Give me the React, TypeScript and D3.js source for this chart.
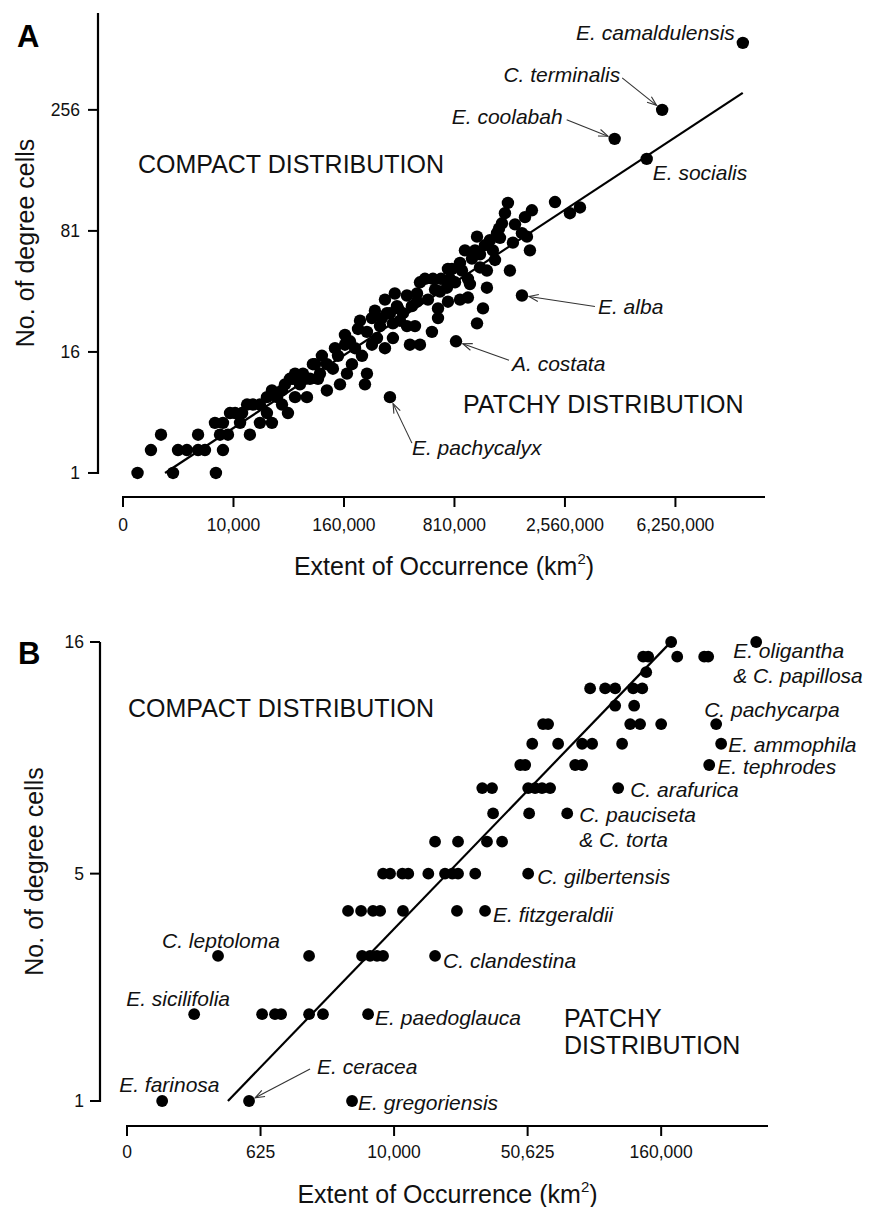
import React from 'react';
import * as d3 from 'd3';

const FONT = '"Liberation Sans", Arial, Helvetica, sans-serif';

type Pt = [number, number]; // [extent of occurrence km², number of degree cells]

// ---------- Panel A ----------
const ticksXA = [0, 10000, 160000, 810000, 2560000, 6250000];
const ticksYA = [1, 16, 81, 256];

const speciesA: Pt[] = [
  [3, 1], [420, 1], [5000, 1],
  [41, 2], [615, 2], [1120, 2], [2130, 2], [3030, 2], [6700, 2],
  [140, 3], [2130, 3], [5940, 3], [8150, 3], [17400, 3],
  [4800, 4], [6700, 4], [23600, 4], [33000, 4], [12600, 4],
  [8800, 5], [10600, 5], [13500, 5], [49700, 5], [28800, 5],
  [15900, 6], [19100, 6], [23600, 6], [42900, 6],
  [28800, 7], [37800, 7], [76800, 7], [58800, 7],
  [33000, 8], [116000, 8], [42900, 8],
  [46200, 9], [65800, 9], [230000, 9], [148800, 9],
  [56000, 10], [52100, 10], [97000, 10], [73600, 10], [82000, 10],
  [70400, 11], [168800, 11], [237700, 11], [101000, 11], [58800, 11],
  [130300, 12],
  [87300, 13], [91200, 13], [116000, 13], [184300, 13],
  [143400, 15], [218900, 15], [105000, 15],
  [162900, 18], [178000, 19], [194500, 17], [257700, 18], [316000, 17], [135500, 17],
  [162900, 21], [211700, 26], [270200, 30], [316000, 35], [366200, 38],
  [257700, 27], [301800, 27], [237700, 22], [279300, 20], [356200, 20], [204700, 23], [292700, 24],
  [340700, 29], [378200, 32], [412300, 29], [356200, 25], [436200, 24], [454800, 18], [487900, 24],
  [522000, 18], [611200, 22],
  [395000, 26], [467600, 32], [580300, 35], [677500, 39], [522000, 44], [636000, 40],
  [436200, 37], [501400, 38], [501400, 34], [557900, 46], [619100, 46], [686100, 46], [660700, 31],
  [660700, 27], [739100, 41], [748200, 52],
  [383800, 31], [325700, 29],
  [815400, 44], [886000, 51], [865400, 56], [917600, 65], [865400, 35],
  [785500, 52], [766600, 46], [950000, 46], [972200, 43], [950000, 36], [748200, 34],
  [1030000, 65], [995000, 59], [1090000, 53], [1177000, 51], [1177000, 41], [1127000, 31], [1054000, 25],
  [1090000, 62], [1152000, 69],
  [1054000, 76], [1216000, 73], [1355000, 75], [1551000, 71], [1700000, 79], [1787000, 76], [1256000, 65],
  [1285000, 58], [1504000, 51], [1840000, 65], [1313000, 79], [1341000, 83], [1585000, 87],
  [1384000, 88], [1428000, 98], [1473000, 109], [1752000, 94], [1876000, 101],
  [2337000, 110], [2677000, 98], [2926000, 104],
];

interface Named { name: string; extent: number; cells: number }

const namedA: Named[] = [
  { name: 'E. camaldulensis', extent: 9905000, cells: 430 },
  { name: 'C. terminalis', extent: 5671000, cells: 256 },
  { name: 'E. coolabah', extent: 3921000, cells: 200 },
  { name: 'E. socialis', extent: 5048000, cells: 167 },
  { name: 'E. alba', extent: 1700000, cells: 37 },
  { name: 'A. costata', extent: 825200, cells: 19 },
  { name: 'E. pachycalyx', extent: 340700, cells: 7 },
];

const fitA: Pt[] = [[210, 1], [9900000, 294]];

// ---------- Panel B ----------
const ticksXB = [0, 625, 10000, 50625, 160000];
const ticksYB = [1, 5, 16];

const speciesB: Pt[] = [
  [655, 2], [943, 2], [1108, 2], [2160, 2], [2900, 2],
  [2160, 3], [6000, 3], [6860, 3], [7680, 3], [8450, 3],
  [4690, 4], [5900, 4], [7200, 4], [8070, 4], [11400, 4], [23300, 4],
  [8450, 5], [9410, 5], [11300, 5], [12300, 5], [16200, 5], [20100, 5], [22000, 5], [23600, 5], [28900, 5],
  [17700, 6], [23600, 6], [33000, 6], [38900, 6],
  [35300, 7], [51400, 7],
  [31300, 8], [34900, 8], [50900, 8], [54500, 8], [58300, 8], [63000, 8],
  [47000, 9], [49400, 9], [79300, 9], [84300, 9],
  [53000, 10], [67900, 10], [84300, 10], [92000, 10], [118100, 10],
  [58900, 11], [61800, 11], [126000, 11], [136200, 11], [160000, 11],
  [111600, 12], [130000, 12],
  [90400, 13], [102700, 13], [111600, 13], [129000, 13], [138500, 13],
  [142800, 14],
  [139500, 15], [145000, 15], [180100, 15], [218100, 15], [224200, 15],
  [172300, 16],
];

const namedB: Named[] = [
  { name: 'E. farinosa', extent: 3, cells: 1 },
  { name: 'E. ceracea', extent: 436, cells: 1 },
  { name: 'E. gregoriensis', extent: 5040, cells: 1 },
  { name: 'E. sicilifolia', extent: 40, cells: 2 },
  { name: 'E. paedoglauca', extent: 6640, cells: 2 },
  { name: 'C. leptoloma', extent: 135, cells: 3 },
  { name: 'C. clandestina', extent: 17700, cells: 3 },
  { name: 'E. fitzgeraldii', extent: 32300, cells: 4 },
  { name: 'C. gilbertensis', extent: 50900, cells: 5 },
  { name: 'C. pauciseta & C. torta', extent: 73800, cells: 7 },
  { name: 'C. arafurica', extent: 114400, cells: 8 },
  { name: 'E. tephrodes', extent: 225800, cells: 9 },
  { name: 'E. ammophila', extent: 244900, cells: 10 },
  { name: 'C. pachycarpa', extent: 236800, cells: 11 },
  { name: 'E. oligantha & C. papillosa', extent: 308000, cells: 16 },
];

const fitB: Pt[] = [[204, 1], [168500, 15.8]];

// ---------- label placement (pixel offsets from the labelled dot) ----------
interface LabelLayout {
  name: string;
  lines: string[];
  dx: number;
  dy: number;
  anchor: 'start' | 'end';
  arrow?: [number, number];
}

const layoutA: LabelLayout[] = [
  { name: 'E. camaldulensis', lines: ['E. camaldulensis'], dx: -8, dy: -3, anchor: 'end' },
  { name: 'C. terminalis', lines: ['C. terminalis'], dx: -42, dy: -28, anchor: 'end', arrow: [-40, -32] },
  { name: 'E. coolabah', lines: ['E. coolabah'], dx: -52, dy: -15, anchor: 'end', arrow: [-48, -19] },
  { name: 'E. socialis', lines: ['E. socialis'], dx: 6, dy: 21, anchor: 'start' },
  { name: 'E. alba', lines: ['E. alba'], dx: 76, dy: 19, anchor: 'start', arrow: [73, 11] },
  { name: 'A. costata', lines: ['A. costata'], dx: 56, dy: 30, anchor: 'start', arrow: [53, 19] },
  { name: 'E. pachycalyx', lines: ['E. pachycalyx'], dx: 22, dy: 58, anchor: 'start', arrow: [22, 46] },
];

const layoutB: LabelLayout[] = [
  { name: 'E. farinosa', lines: ['E. farinosa'], dx: -43, dy: -9, anchor: 'start' },
  { name: 'E. ceracea', lines: ['E. ceracea'], dx: 68, dy: -27, anchor: 'start', arrow: [61, -32] },
  { name: 'E. gregoriensis', lines: ['E. gregoriensis'], dx: 6, dy: 9, anchor: 'start' },
  { name: 'E. sicilifolia', lines: ['E. sicilifolia'], dx: -68, dy: -8, anchor: 'start' },
  { name: 'E. paedoglauca', lines: ['E. paedoglauca'], dx: 7, dy: 11, anchor: 'start' },
  { name: 'C. leptoloma', lines: ['C. leptoloma'], dx: -56, dy: -8, anchor: 'start' },
  { name: 'C. clandestina', lines: ['C. clandestina'], dx: 8, dy: 12, anchor: 'start' },
  { name: 'E. fitzgeraldii', lines: ['E. fitzgeraldii'], dx: 8, dy: 11, anchor: 'start' },
  { name: 'C. gilbertensis', lines: ['C. gilbertensis'], dx: 9, dy: 10, anchor: 'start' },
  { name: 'C. pauciseta & C. torta', lines: ['C. pauciseta', '& C. torta'], dx: 12, dy: 9, anchor: 'start' },
  { name: 'C. arafurica', lines: ['C. arafurica'], dx: 12, dy: 9, anchor: 'start' },
  { name: 'E. tephrodes', lines: ['E. tephrodes'], dx: 8, dy: 9, anchor: 'start' },
  { name: 'E. ammophila', lines: ['E. ammophila'], dx: 7, dy: 8, anchor: 'start' },
  { name: 'C. pachycarpa', lines: ['C. pachycarpa'], dx: -12, dy: -7, anchor: 'start' },
  { name: 'E. oligantha & C. papillosa', lines: ['E. oligantha', '& C. papillosa'], dx: -23, dy: 16, anchor: 'start' },
];

const fmt = d3.format(',');

function Arrow({ sx, sy, tx, ty, gap }: { sx: number; sy: number; tx: number; ty: number; gap: number }) {
  const ang = Math.atan2(ty - sy, tx - sx);
  const ex = tx - Math.cos(ang) * gap;
  const ey = ty - Math.sin(ang) * gap;
  const h = 10;
  const spread = 0.36;
  const a1 = ang + Math.PI - spread;
  const a2 = ang + Math.PI + spread;
  return (
    <g stroke="#333" strokeWidth={1.1} fill="none">
      <line x1={sx} y1={sy} x2={ex} y2={ey} />
      <polyline
        points={`${ex + Math.cos(a1) * h},${ey + Math.sin(a1) * h} ${ex},${ey} ${ex + Math.cos(a2) * h},${ey + Math.sin(a2) * h}`}
      />
    </g>
  );
}

interface PanelProps {
  letter: string;
  letterPos: [number, number];
  x: d3.ScalePower<number, number>;
  y: d3.ScalePower<number, number>;
  xTicks: number[];
  yTicks: number[];
  xAxisY: number;
  yAxisX: number;
  yAxisTop: number;
  yLabelGap: number;
  xLabelOffset: number;
  points: Pt[];
  named: Named[];
  layout: LabelLayout[];
  fit: Pt[];
  dotR: number;
  yTitleX: number;
  xTitleY: number;
  regions: { lines: string[]; x: number; y: number }[];
}

function Panel(p: PanelProps) {
  const { x, y } = p;
  const line = d3.line<Pt>().x((d) => x(d[0])).y((d) => y(d[1]));
  const [xr0, xr1] = x.range();
  const yBottom = y(p.yTicks[0]);
  const yMid = (yBottom + p.yAxisTop) / 2;
  const xMid = (xr0 + xr1) / 2;

  return (
    <g>
      <text x={p.letterPos[0]} y={p.letterPos[1]} fontSize={31} fontWeight="bold" fill="#000">
        {p.letter}
      </text>

      {/* y axis */}
      <line x1={p.yAxisX} x2={p.yAxisX} y1={yBottom + 1} y2={p.yAxisTop} stroke="#000" strokeWidth={2.2} />
      {p.yTicks.map((t) => (
        <g key={`yt${t}`}>
          <line x1={p.yAxisX - 10} x2={p.yAxisX} y1={y(t)} y2={y(t)} stroke="#000" strokeWidth={2} />
          <text x={p.yAxisX - p.yLabelGap} y={y(t)} dy="0.35em" textAnchor="end" fontSize={17.5} fill="#111">
            {fmt(t)}
          </text>
        </g>
      ))}

      {/* x axis */}
      <line x1={xr0 - 1} x2={xr1} y1={p.xAxisY} y2={p.xAxisY} stroke="#000" strokeWidth={2.2} />
      {p.xTicks.map((t) => (
        <g key={`xt${t}`}>
          <line x1={x(t)} x2={x(t)} y1={p.xAxisY} y2={p.xAxisY + 10} stroke="#000" strokeWidth={2} />
          <text x={x(t)} y={p.xAxisY + p.xLabelOffset} textAnchor="middle" fontSize={17.5} fill="#111">
            {fmt(t)}
          </text>
        </g>
      ))}

      {/* axis titles */}
      <text
        transform={`translate(${p.yTitleX},${yMid}) rotate(-90)`}
        textAnchor="middle"
        fontSize={25}
        fill="#111"
      >
        No. of degree cells
      </text>
      <text x={xMid} y={p.xTitleY} textAnchor="middle" fontSize={25} fill="#111">
        Extent of Occurrence (km<tspan dy={-11} fontSize={15}>2</tspan>
        <tspan dy={11}>)</tspan>
      </text>

      {/* region captions */}
      {p.regions.map((r, i) => (
        <text key={`rg${i}`} x={r.x} y={r.y} fontSize={25} fill="#111">
          {r.lines.map((ln, j) => (
            <tspan key={j} x={r.x} dy={j === 0 ? 0 : 27}>
              {ln}
            </tspan>
          ))}
        </text>
      ))}

      {/* fitted relationship */}
      <path d={line(p.fit) || ''} stroke="#000" strokeWidth={2.2} fill="none" />

      {/* species */}
      {p.points.map((d, i) => (
        <circle key={`pt${i}`} cx={x(d[0])} cy={y(d[1])} r={p.dotR} fill="#000" />
      ))}
      {p.named.map((d) => (
        <circle key={`nm${d.name}`} cx={x(d.extent)} cy={y(d.cells)} r={p.dotR} fill="#000" />
      ))}

      {/* species labels */}
      {p.layout.map((l) => {
        const sp = p.named.find((n) => n.name === l.name);
        if (!sp) return null;
        const px = x(sp.extent);
        const py = y(sp.cells);
        return (
          <g key={`lb${l.name}`}>
            <text x={px + l.dx} y={py + l.dy} textAnchor={l.anchor} fontSize={21} fontStyle="italic" fill="#111">
              {l.lines.map((ln, j) => (
                <tspan key={j} x={px + l.dx} dy={j === 0 ? 0 : 25}>
                  {ln}
                </tspan>
              ))}
            </text>
            {l.arrow && (
              <Arrow sx={px + l.arrow[0]} sy={py + l.arrow[1]} tx={px} ty={py} gap={p.dotR + 1} />
            )}
          </g>
        );
      })}
    </g>
  );
}

export default function App() {
  const xA = d3.scalePow().exponent(0.25).domain([0, 11400000]).range([123, 765]);
  const yA = d3.scalePow().exponent(0.25).domain([0, 531]).range([594, 13]);
  const xB = d3.scalePow().exponent(0.25).domain([0, 331776]).range([127, 768]);
  const yB = d3.scalePow().exponent(0.25).domain([0, 16]).range([1560, 642]);

  return (
    <svg
      width={870}
      height={1207}
      viewBox="0 0 870 1207"
      style={{ position: 'absolute', left: 0, top: 0, background: '#fff', fontFamily: FONT }}
    >
      <rect x={0} y={0} width={870} height={1207} fill="#fff" />
      <Panel
        letter="A"
        letterPos={[17, 47]}
        x={xA}
        y={yA}
        xTicks={ticksXA}
        yTicks={ticksYA}
        xAxisY={497}
        yAxisX={98}
        yAxisTop={13}
        yLabelGap={18}
        xLabelOffset={34}
        points={speciesA}
        named={namedA}
        layout={layoutA}
        fit={fitA}
        dotR={6.2}
        yTitleX={34}
        xTitleY={575}
        regions={[
          { lines: ['COMPACT DISTRIBUTION'], x: 138, y: 173 },
          { lines: ['PATCHY DISTRIBUTION'], x: 463, y: 413 },
        ]}
      />
      <Panel
        letter="B"
        letterPos={[18, 664]}
        x={xB}
        y={yB}
        xTicks={ticksXB}
        yTicks={ticksYB}
        xAxisY={1126}
        yAxisX={100}
        yAxisTop={642}
        yLabelGap={16}
        xLabelOffset={32}
        points={speciesB}
        named={namedB}
        layout={layoutB}
        fit={fitB}
        dotR={5.9}
        yTitleX={43}
        xTitleY={1203}
        regions={[
          { lines: ['COMPACT DISTRIBUTION'], x: 128, y: 717 },
          { lines: ['PATCHY', 'DISTRIBUTION'], x: 564, y: 1027 },
        ]}
      />
    </svg>
  );
}
